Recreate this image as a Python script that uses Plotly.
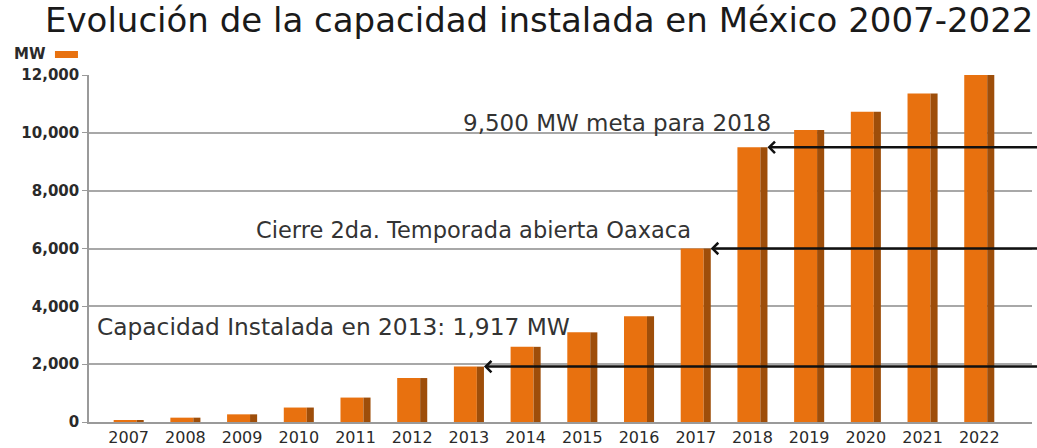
import plotly.graph_objects as go

# ---- data ----
years = ['2007', '2008', '2009', '2010', '2011', '2012', '2013', '2014',
         '2015', '2016', '2017', '2018', '2019', '2020', '2021', '2022']
capacity_mw = [60, 150, 265, 500, 845, 1520, 1917, 2600,
               3100, 3660, 6000, 9500, 10100, 10730, 11360, 12000]
y_tick_values = [0, 2000, 4000, 6000, 8000, 10000, 12000]
y_tick_labels = ['0', '2,000', '4,000', '6,000', '8,000', '10,000', '12,000']
arrow_years = ['2013', '2017', '2018']
arrow_texts = ['Capacidad Instalada en 2013: 1,917 MW',
               'Cierre 2da. Temporada abierta Oaxaca',
               '9,500 MW meta para 2018']
title_text = 'Evolución de la capacidad instalada en México 2007-2022'
legend_label = 'MW'

# ---- style ----
FONT = 'DejaVu Sans'
FRONT = '#E8710F'
SIDE = '#9E4E0A'
GRID = '#A8A8A8'
TEXT = '#2a2a2a'
HALF = 0.265        # half bar width (category units)
SIDE_W = 0.125      # width of the shaded side face

x_idx = list(range(len(years)))

fig = go.Figure()
fig.add_trace(go.Bar(x=x_idx, y=capacity_mw, width=2 * HALF - SIDE_W,
                     offset=-HALF, marker=dict(color=FRONT, line=dict(width=0)),
                     name=legend_label, showlegend=False, hoverinfo='y'))
fig.add_trace(go.Bar(x=x_idx, y=capacity_mw, width=SIDE_W,
                     offset=HALF - SIDE_W, marker=dict(color=SIDE, line=dict(width=0)),
                     showlegend=False, hoverinfo='skip'))

# arrows pointing to bars
for yr in arrow_years:
    i = years.index(yr)
    fig.add_annotation(x=i + HALF, y=capacity_mw[i], xref='x', yref='y',
                       ax=16.2, ay=capacity_mw[i], axref='x', ayref='y',
                       text='', showarrow=True, arrowhead=4, arrowsize=0.85,
                       arrowwidth=2.6, arrowcolor='#111111', standoff=0)

# annotation texts
text_pos = [  # (x paper, y paper, xanchor, font size)
    (0.0064, 0.274, 'left', 23.3),
    (0.6405, 0.553, 'right', 22.5),
    (0.7253, 0.863, 'right', 23),
]
for t, (px, py, xa, fs) in zip(arrow_texts, text_pos):
    fig.add_annotation(x=px, y=py, xref='paper', yref='paper', text=t,
                       showarrow=False, xanchor=xa, yanchor='middle',
                       font=dict(family=FONT, size=fs, color='#333333'))

# legend-like "MW" label and swatch
fig.add_annotation(x=-0.0817, y=1.0605, xref='paper', yref='paper',
                   text='<b>' + legend_label + '</b>', showarrow=False,
                   xanchor='left', yanchor='middle',
                   font=dict(family=FONT, size=15, color=TEXT))
fig.add_shape(type='rect', xref='paper', yref='paper',
              x0=-0.0361, x1=-0.0117, y0=1.049, y1=1.0692,
              fillcolor=FRONT, line=dict(width=0))

fig.update_layout(
    width=1037, height=448,
    margin=dict(l=89, r=5, t=75, b=26),
    paper_bgcolor='white', plot_bgcolor='white',
    barmode='overlay',
    title=dict(text=title_text, x=0.52, xanchor='center', y=0.956,
               yanchor='middle', yref='container',
               font=dict(family=FONT, size=34, color='#1a1a1a')),
    xaxis=dict(range=[-0.70, 15.93], tickmode='array', tickvals=x_idx,
               ticktext=years, showgrid=False, zeroline=False,
               showline=True, linecolor='#9a9a9a', linewidth=1.5,
               ticks='', automargin=False, ticklabelstandoff=0,
               tickfont=dict(family=FONT, size=16, color=TEXT)),
    yaxis=dict(range=[0, 12000], tickmode='array', tickvals=y_tick_values,
               ticktext=y_tick_labels, showgrid=True, gridcolor=GRID,
               gridwidth=1.5, zeroline=False, showline=True,
               linecolor='#9a9a9a', linewidth=1.5, ticks='outside',
               ticklen=5, tickcolor='#9a9a9a', automargin=False,
               tickfont=dict(family=FONT, size=15, color=TEXT, weight='bold')),
)

fig.write_html('out.html', config={'displayModeBar': False},
               post_script="document.body.style.margin='0';")
